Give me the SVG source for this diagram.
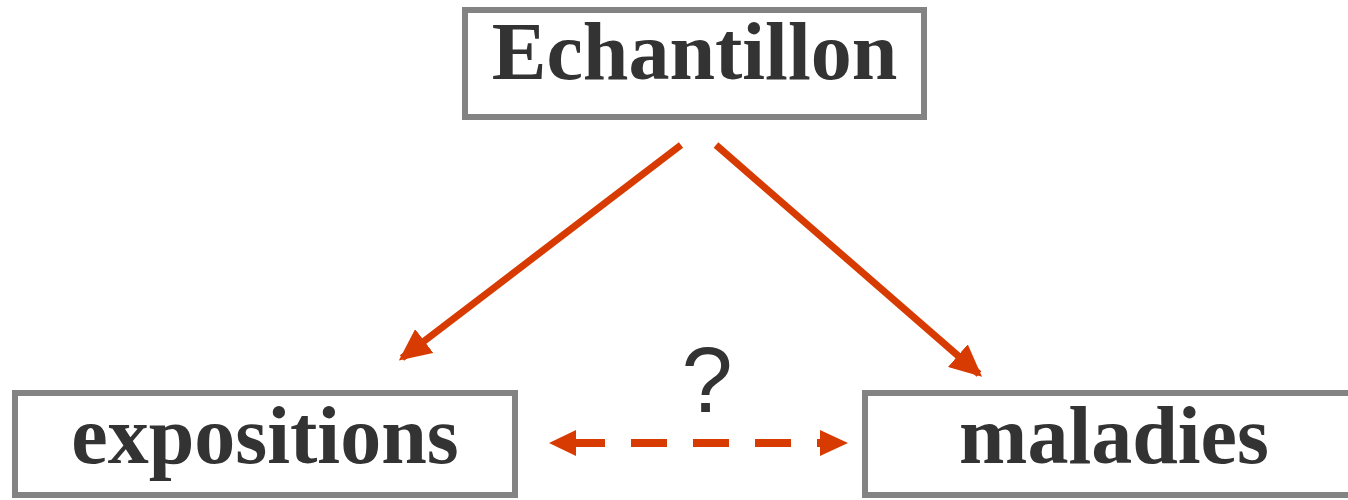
<svg xmlns="http://www.w3.org/2000/svg" width="1348" height="500" viewBox="0 0 1348 500">
<style>
.box{fill:#fff;stroke:#838383;stroke-width:6}
.lbl{font-family:"Liberation Serif","Times New Roman",serif;font-weight:bold;font-size:82px;fill:#333;text-anchor:middle}
.q{font-family:"Liberation Sans",Arial,sans-serif;font-size:92px;fill:#333;text-anchor:middle}
.arr{fill:none;stroke:#D83B01;stroke-width:7}
.dash{fill:none;stroke:#D83B01;stroke-width:8;stroke-dasharray:36 26;stroke-dashoffset:7}
.head{fill:#D83B01}
</style>
<defs>
<marker id="ah" markerUnits="userSpaceOnUse" markerWidth="32" markerHeight="30" viewBox="0 0 32 30" refX="28" refY="15" orient="auto">
<path d="M0,0 L32,15 L0,30 Z" fill="#D83B01"/>
</marker>
</defs>
<g id="echantillon">
<rect class="box" x="465" y="10" width="459" height="107"/>
<text class="lbl" x="694.5" y="79">Echantillon</text>
</g>
<g id="expositions">
<rect class="box" x="15" y="393" width="500" height="102"/>
<text class="lbl" x="265" y="463">expositions</text>
</g>
<g id="maladies">
<rect class="box" x="865" y="393" width="500" height="102"/>
<text class="lbl" x="1114" y="463">maladies</text>
</g>
<g id="connectors">
<path class="arr" d="M681,145 L402,358" marker-end="url(#ah)"/>
<path class="arr" d="M716,145 L979,374" marker-end="url(#ah)"/>
<path class="dash" d="M576,443 L820,443"/>
<path class="head" d="M576,430 L549,443 L576,456 Z"/>
<path class="head" d="M820,430 L848,443 L820,456 Z"/>
<text class="q" x="707" y="412">?</text>
</g>
</svg>
